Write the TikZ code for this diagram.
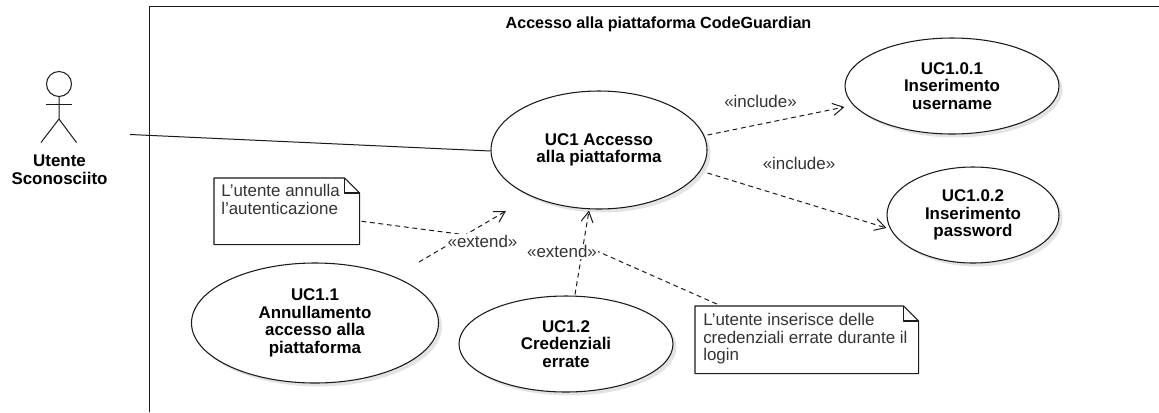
\documentclass[tikz,border=0pt]{standalone}
\usepackage{fontspec}
\setmainfont{Liberation Sans}
\usetikzlibrary{shapes.geometric,arrows.meta,calc,shadows}
\pgfdeclarelayer{fg}
\pgfsetlayers{main,fg}
\definecolor{ink}{HTML}{1A1A1A}
\definecolor{soft}{HTML}{333333}
\tikzset{
  x=0.75pt,y=0.75pt,
  usecase/.style={ellipse,draw=ink,line width=0.8pt,fill=white,inner sep=0pt,align=center,
    font=\fontsize{12.7}{13.1}\selectfont\bfseries,text=black,
    drop shadow={shadow xshift=2.6pt,shadow yshift=-2.6pt,fill=black!11,opacity=1}},
  steretype/.style={fill=white,inner sep=0.6pt,font=\fontsize{12.7}{13.1}\selectfont,text=soft},
  dep/.style={draw=ink,line width=0.75pt,dash pattern=on 3.6pt off 2.8pt},
  deparrow/.style={dep,-{Straight Barb[length=8pt,width=9pt,line width=0.75pt]}},
  notebox/.style={inner sep=0pt,anchor=north west,align=left,text=soft,
    font=\fontsize{12.7}{13.1}\selectfont},
  noteline/.style={draw=ink,line width=0.8pt},
  actorline/.style={draw=ink,line width=0.75pt},
}
\newcommand{\notepaper}[1]{%
  \draw[noteline,line join=round] (#1.north west) -- ($(#1.north east)+(-15,0)$) -- ($(#1.north east)+(0,-15)$)
     -- (#1.south east) -- (#1.south west) -- cycle;
  \draw[noteline,line join=round] ($(#1.north east)+(-15,0)$) -- ($(#1.north east)+(-15,-15)$) -- ($(#1.north east)+(0,-15)$);}
\begin{document}
\begin{tikzpicture}
\useasboundingbox (0,0) rectangle (1159,-412);
% system frame
\coordinate (framer) at (1159,-6.5);
\coordinate (framec) at (149.5,-6.5);
\coordinate (frameb) at (149.5,-412);
\draw[actorline,line width=0.9pt] (framer) -- (framec) -- (frameb);
\node[font=\fontsize{12.1}{13.1}\selectfont\bfseries] (title) at (658.5,-24.5) {Accesso alla piattaforma CodeGuardian};
% actor
\node[circle,draw=ink,line width=0.75pt,minimum size=25pt*0.75,inner sep=0pt] (head) at (59,-84) {};
\coordinate (neck) at (59,-96.5);
\coordinate (hip) at (59,-119);
\coordinate (arml) at (46,-104);
\coordinate (armr) at (71.5,-104);
\coordinate (legl) at (41,-142.5);
\coordinate (legr) at (76.5,-142.5);
\draw[actorline] (head.south) -- (hip) -- (legl);
\draw[actorline] (hip) -- (legr);
\draw[actorline] (arml) -- (armr);
\node[align=center,font=\fontsize{12.7}{13.3}\selectfont\bfseries] (actor) at (59.5,-170) {Utente\\Sconosciito};
% use cases
\node[usecase,minimum width=216pt*0.75,minimum height=118pt*0.75] (uc1) at (599,-150) {UC1 Accesso\\alla piattaforma};
\node[usecase,minimum width=214pt*0.75,minimum height=96pt*0.75] (uc101) at (952,-86) {UC1.0.1\\Inserimento\\username};
\node[usecase,minimum width=172pt*0.75,minimum height=96pt*0.75] (uc102) at (973,-215) {UC1.0.2\\Inserimento\\password};
\node[usecase,minimum width=247pt*0.75,minimum height=120pt*0.75] (uc11) at (315,-323) {UC1.1\\Annullamento\\accesso alla\\piattaforma};
\node[usecase,minimum width=214pt*0.75,minimum height=96pt*0.75] (uc12) at (566,-344) {UC1.2\\Credenziali\\errate};
% notes
\node[notebox,minimum width=145pt*0.75,minimum height=66pt*0.75,text depth=0pt] (note1) at (214,-178) {};
\node[anchor=north west,inner sep=0pt,align=left,text=soft,font=\fontsize{12.7}{13.1}\selectfont] (note1text) at (221,-184) {L'utente annulla\\l'autenticazione};
\notepaper{note1}
\node[notebox,minimum width=223pt*0.75,minimum height=67pt*0.75] (note2) at (695,-306) {};
\node[anchor=north west,inner sep=0pt,align=left,text=soft,font=\fontsize{12.7}{13.1}\selectfont] (note2text) at (703,-313) {L'utente inserisce delle\\credenziali errate durante il\\login};
\notepaper{note2}
% stereotype labels sit above the connectors
\begin{pgfonlayer}{fg}
\node[steretype] (ext1) at (482.5,-241.5) {«extend»};
\node[steretype] (ext2) at (562,-251.5) {«extend»};
\node[steretype] (inc1) at (760.5,-101.5) {«include»};
\node[steretype] (inc2) at (799,-163.5) {«include»};
\end{pgfonlayer}
% connectors
\coordinate (actorend) at (130,-134.5);
\draw[actorline] (actorend) -- ($(uc1.west)+(0,-1)$);
\draw[deparrow] ($(uc1.east)+(0,15)$) -- ($(uc101.west)+(0,-21)$);
\draw[deparrow] ($(uc1.east)+(0,-23)$) -- ($(uc102.west)+(0,-13)$);
\draw[deparrow] ($(uc11.center)+(104,61)$) -- ($(uc1.center)+(-93,-61)$);
\draw[deparrow] ($(uc12.north)+(9,1)$) -- ($(uc1.south)+(-10,-1)$);
\draw[dep] ($(note1.east)+(2,-10)$) -- ($(ext1.north)+(-22,0)$);
\draw[dep] ($(note2.north)+(-90,2)$) -- (ext2.east);
\end{tikzpicture}
\end{document}
